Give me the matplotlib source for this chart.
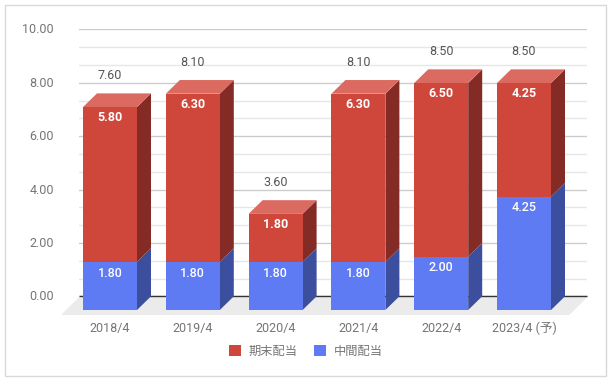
import matplotlib
matplotlib.use("Agg")
import matplotlib.pyplot as plt
from matplotlib.patches import Polygon, Patch, Rectangle
from matplotlib.transforms import ScaledTranslation

plt.rcParams['font.family'] = ['Roboto', 'Noto Sans CJK JP', 'DejaVu Sans']

categories = ['2018/4', '2019/4', '2020/4', '2021/4', '2022/4', '2023/4 (予)']
interim = [1.80, 1.80, 1.80, 1.80, 2.00, 4.25]
final = [5.80, 6.30, 1.80, 6.30, 6.50, 4.25]
totals = [7.60, 8.10, 3.60, 8.10, 8.50, 8.50]
series_names = ['期末配当', '中間配当']

W, H = 613, 383
RED, RED_TOP, RED_SIDE = '#cf463b', '#db6a60', '#852b26'
BLUE, BLUE_SIDE = '#5f7bf3', '#3b4f9e'
FS = 9.0

fig = plt.figure(figsize=(W / 100, H / 100), dpi=100, facecolor='white')
fig.add_artist(Rectangle((5.5 / W, 1 - 376 / H), 600.5 / W, 371.5 / H, transform=fig.transFigure,
                         fill=False, ec='#d9d9d9', lw=1.0))

ax = fig.add_axes([79 / W, 1 - 296.3 / H, (587.3 - 79) / W, 267 / H])
step = 82.8
ax.set_xlim((79 - 110) / step, (587.3 - 110) / step)
ax.set_ylim(0, 10)
for s in ax.spines.values():
    s.set_visible(False)
ax.set_axisbelow(True)
ax.set_yticks([0, 2, 4, 6, 8, 10])
ax.set_yticklabels(['0.00', '2.00', '4.00', '6.00', '8.00', '10.00'])
ax.set_yticks([v * 2 / 3 for v in range(1, 15) if v % 3], minor=True)
ax.grid(True, which='major', axis='y', color='#cccccc', lw=1)
ax.grid(True, which='minor', axis='y', color='#e6e6e6', lw=1)
ax.tick_params(axis='y', which='both', length=0, pad=18, labelsize=FS, labelcolor='#757575')
ax.set_xticks(range(len(categories)))
ax.set_xticklabels(categories)
ax.tick_params(axis='x', length=0, pad=18.5, labelsize=FS, labelcolor='#757575')
up = ScaledTranslation(0, 1 / 100, fig.dpi_scale_trans)
for lab in ax.get_yticklabels():
    lab.set_transform(lab.get_transform() + up)

dx, dy = 14 / step, 13.7 / 26.7
w = 54 / step
xmin, xmax = ax.get_xlim()
fdy = 18.7 / 26.7
fdx = 18 / step
ax.add_patch(Polygon([(xmin - fdx, -fdy), (xmax - fdx, -fdy), (xmax, -0.03), (xmin, -0.03)],
                     fc='#ebebeb', ec='none', clip_on=False, zorder=1.5))
ax.plot([xmin, xmax], [0, 0], color='#333333', lw=1, zorder=1.6, clip_on=False, solid_capstyle='butt')

for i, (a, b, t) in enumerate(zip(interim, final, totals)):
    xl, xr = i - w / 2, i + w / 2
    top = a + b
    ax.add_patch(Polygon([(xr, -dy), (xr + dx, 0), (xr + dx, a), (xr, a - dy)],
                         fc=BLUE_SIDE, ec='none', clip_on=False, zorder=2))
    ax.add_patch(Polygon([(xr, a - dy), (xr + dx, a), (xr + dx, top), (xr, top - dy)],
                         fc=RED_SIDE, ec='none', clip_on=False, zorder=2))
    ax.add_patch(Polygon([(xl, top - dy), (xr, top - dy), (xr + dx, top), (xl + dx, top)],
                         fc=RED_TOP, ec='none', clip_on=False, zorder=2))
    ax.bar(i, a, width=w, bottom=-dy, color=BLUE, clip_on=False, zorder=3)
    ax.bar(i, b, width=w, bottom=a - dy, color=RED, clip_on=False, zorder=3)
    ax.annotate(f'{a:.2f}', (i, a - dy), xytext=(0, -8), textcoords='offset points',
                ha='center', va='center', color='white', fontsize=FS, fontweight='medium', zorder=4)
    ax.annotate(f'{b:.2f}', (i, top - dy), xytext=(0, -7.5), textcoords='offset points',
                ha='center', va='center', color='white', fontsize=FS, fontweight='bold', zorder=4)
    ax.annotate(f'{t:.2f}', (i, top), xytext=(0, 12.8), textcoords='offset points',
                ha='center', va='center', color='#555555', fontsize=FS, zorder=4)

handles = [Patch(fc=RED, ec='none'), Patch(fc=BLUE, ec='none')]
fig.legend(handles, series_names, loc='center', bbox_to_anchor=(305.5 / W, 1 - 351 / H), ncol=2,
           frameon=False, fontsize=8.8, handlelength=0.98, handleheight=1.0, handletextpad=0.62,
           columnspacing=1.35, borderpad=0, borderaxespad=0, labelcolor='#757575')

fig.savefig('out.png', dpi=100, facecolor='white')
